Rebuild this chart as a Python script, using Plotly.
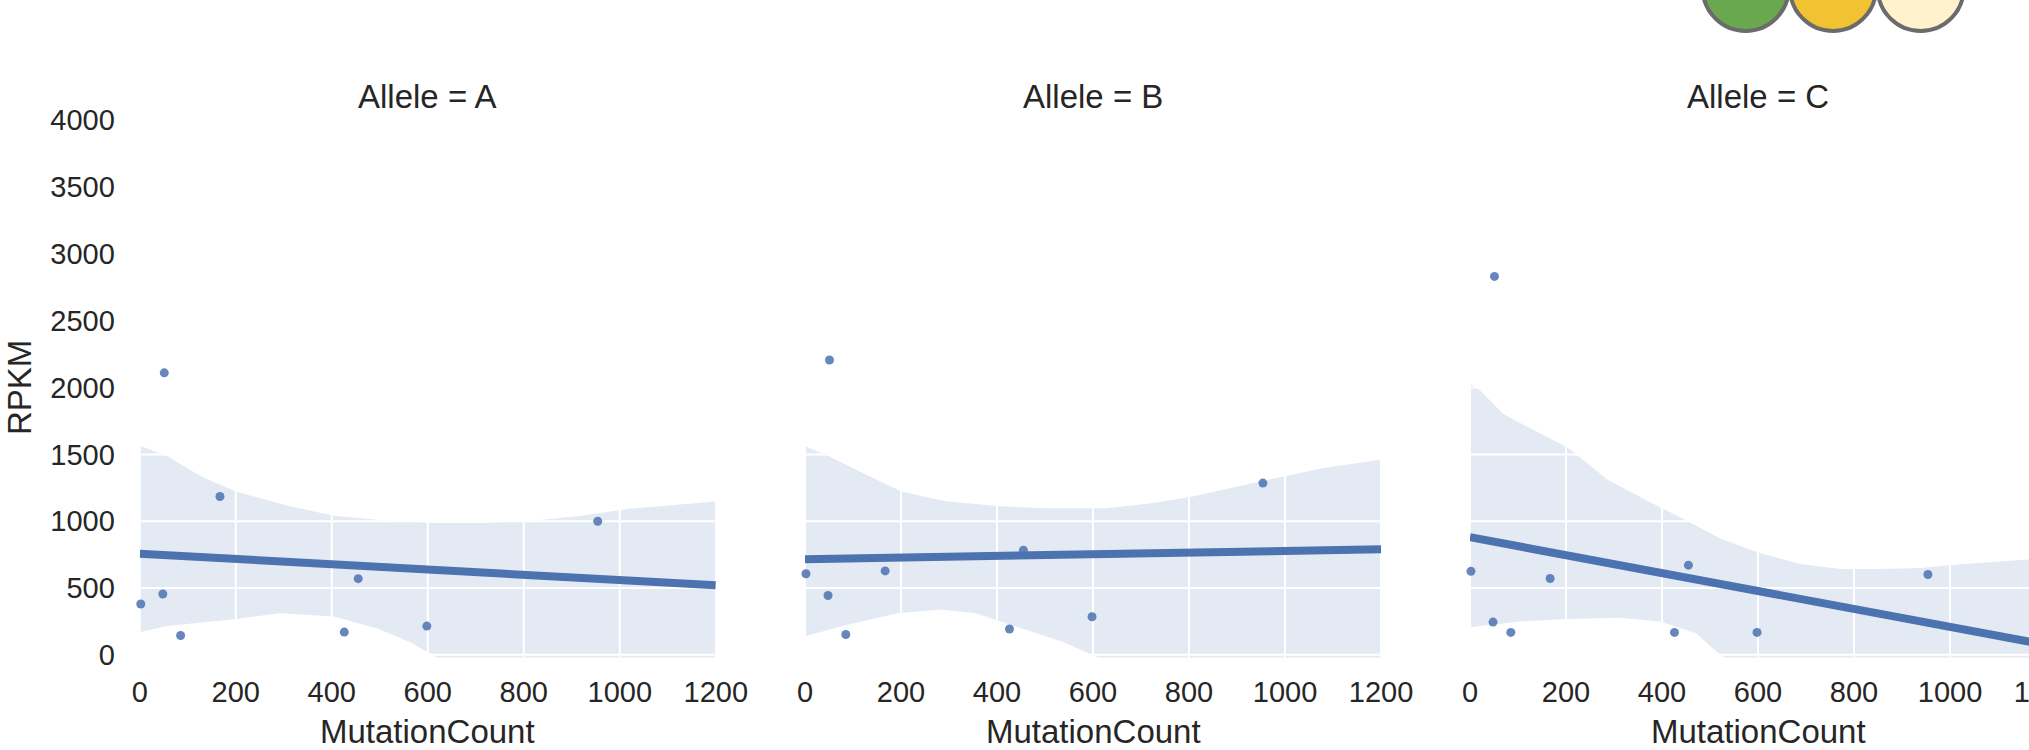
import plotly.graph_objects as go

# ---------------- data ----------------
alleles = ["A", "B", "C"]
mutation_count = [2, 48, 51, 85, 167, 426, 455, 598, 954]
rpkm_a = [380, 455, 2110, 145, 1185, 170, 570, 215, 1000]
rpkm_b = [607, 444, 2206, 152, 628, 193, 783, 285, 1285]
rpkm_c = [625, 245, 2832, 168, 571, 168, 671, 168, 601]

# regression line, value at x = 0 and x = 1200
fit_x = [0, 1200]
fit_a = [757, 520]
fit_b = [715, 790]
fit_c = [880, 75]

# 95% confidence band (upper / lower edges)
band_a_upper_x = [0, 56, 130, 202, 313, 404, 515, 616, 717, 818, 919, 1020, 1200]
band_a_upper = [1565, 1489, 1330, 1220, 1112, 1040, 1004, 986, 986, 1004, 1040, 1094, 1148]
band_a_lower_x = [0, 56, 202, 293, 404, 495, 566, 621, 700, 1200]
band_a_lower = [169, 215, 269, 312, 287, 197, 90, -25, -150, -150]

band_b_upper_x = [0, 48, 129, 202, 292, 401, 500, 627, 718, 808, 899, 989, 1080, 1200]
band_b_upper = [1560, 1489, 1346, 1221, 1150, 1114, 1096, 1096, 1132, 1185, 1257, 1328, 1399, 1460]
band_b_lower_x = [0, 84, 193, 283, 356, 446, 537, 600, 700, 1200]
band_b_lower = [139, 221, 311, 339, 311, 203, 96, -4, -150, -150]

band_c_upper_x = [0, 20, 70, 129, 204, 287, 371, 454, 521, 605, 688, 772, 855, 939, 1022, 1162, 1200]
band_c_upper = [2030, 1981, 1800, 1690, 1550, 1310, 1150, 1000, 870, 760, 680, 643, 643, 650, 678, 714, 722]
band_c_lower_x = [0, 104, 204, 312, 396, 471, 521, 600, 1200]
band_c_lower = [207, 250, 268, 278, 250, 161, 0, -150, -150]

x_ticks = [0, 200, 400, 600, 800, 1000, 1200]
y_ticks = [0, 500, 1000, 1500, 2000, 2500, 3000, 3500, 4000]

# ---------------- styling / layout ----------------
W, H = 2100, 750          # figure is wider than the 2029 px window; the right edge is cropped
BLUE = "#4C72B0"
TEXT = "#262626"
FONT = "Liberation Sans, Arial, sans-serif"

px_per_unit = 576.0 / 1200.0
panel_left = [139.8, 805.0, 1470.0]
plot_top, plot_bottom = 120.3, 657.5
y_range = [-20, 4000]

panels = [
    (rpkm_a, fit_a, band_a_upper_x, band_a_upper, band_a_lower_x, band_a_lower),
    (rpkm_b, fit_b, band_b_upper_x, band_b_upper, band_b_lower_x, band_b_lower),
    (rpkm_c, fit_c, band_c_upper_x, band_c_upper, band_c_lower_x, band_c_lower),
]

fig = go.Figure()
annotations = []

for i, (allele, (ys, fit, ux, uy, lx, ly)) in enumerate(zip(alleles, panels)):
    suffix = "" if i == 0 else str(i + 1)
    xa, ya = "x" + suffix, "y" + suffix

    # confidence band
    fig.add_trace(go.Scatter(
        x=list(ux) + list(lx)[::-1], y=list(uy) + list(ly)[::-1],
        fill="toself", fillcolor="rgba(76,114,176,0.15)", mode="lines",
        line=dict(width=0), hoverinfo="skip", showlegend=False,
        xaxis=xa, yaxis=ya))

    # white grid lines drawn above the band (invisible on the white background)
    gx, gy = [], []
    for t in x_ticks:
        gx += [t, t, None]
        gy += [y_range[0], y_ticks[-1], None]
    for t in y_ticks:
        gx += [x_ticks[0], x_ticks[-1], None]
        gy += [t, t, None]
    fig.add_trace(go.Scatter(x=gx, y=gy, mode="lines",
                             line=dict(color="#ffffff", width=2),
                             hoverinfo="skip", showlegend=False, xaxis=xa, yaxis=ya))

    # regression line
    fig.add_trace(go.Scatter(x=fit_x, y=fit, mode="lines",
                             line=dict(color=BLUE, width=8),
                             showlegend=False, xaxis=xa, yaxis=ya))
    # points
    fig.add_trace(go.Scatter(x=mutation_count, y=ys, mode="markers",
                             marker=dict(color=BLUE, size=9, opacity=0.85, line=dict(width=0)),
                             cliponaxis=False, showlegend=False, xaxis=xa, yaxis=ya))

    left = panel_left[i]
    right = left + 1200 * px_per_unit

    axis_common = dict(showgrid=False, zeroline=False, showline=False, automargin=False,
                       tickfont=dict(family=FONT, size=29, color=TEXT), ticks="")
    fig.update_layout(**{
        ("xaxis" + suffix): dict(domain=[left / W, right / W], range=[0, 1200],
                                 tickvals=x_ticks, ticktext=[str(t) for t in x_ticks],
                                 ticklabelstandoff=14, anchor=ya, **axis_common),
        ("yaxis" + suffix): dict(domain=[1 - plot_bottom / H, 1 - plot_top / H], range=y_range,
                                 tickvals=y_ticks, ticktext=[str(t) for t in y_ticks],
                                 showticklabels=(i == 0), ticklabelstandoff=24,
                                 anchor=xa, **axis_common),
    })

    annotations.append(dict(text="Allele = " + allele, xref=xa, x=600, yref="paper",
                            y=1 - 97 / H, xanchor="center", yanchor="middle", showarrow=False,
                            font=dict(family=FONT, size=33, color=TEXT)))
    annotations.append(dict(text="MutationCount", xref=xa, x=600, yref="paper",
                            y=1 - 731 / H, xanchor="center", yanchor="middle", showarrow=False,
                            font=dict(family=FONT, size=33, color=TEXT)))

annotations.append(dict(text="RPKM", xref="paper", x=19 / W, yref="paper",
                        y=1 - 388 / H, xanchor="center", yanchor="middle", textangle=-90,
                        showarrow=False, font=dict(family=FONT, size=33, color=TEXT)))

# decorative coloured circles at the top right
shapes = []
for cx, fillc in [(1745.7, "#6aa84f"), (1833.0, "#f1c232"), (1920.7, "#fff2cc")]:
    r = 43
    cy = -12
    shapes.append(dict(type="circle", xref="paper", yref="paper",
                       x0=(cx - r) / W, x1=(cx + r) / W,
                       y0=1 - (cy + r) / H, y1=1 - (cy - r) / H,
                       fillcolor=fillc, line=dict(color="#6b6b6b", width=4), layer="above"))

fig.update_layout(width=W, height=H, margin=dict(l=0, r=0, t=0, b=0),
                  paper_bgcolor="white", plot_bgcolor="white",
                  annotations=annotations, shapes=shapes, showlegend=False,
                  font=dict(family=FONT, color=TEXT))

fig.write_html("out.html", config={"displayModeBar": False},
               post_script="document.body.style.margin='0';document.body.style.overflow='hidden';")
